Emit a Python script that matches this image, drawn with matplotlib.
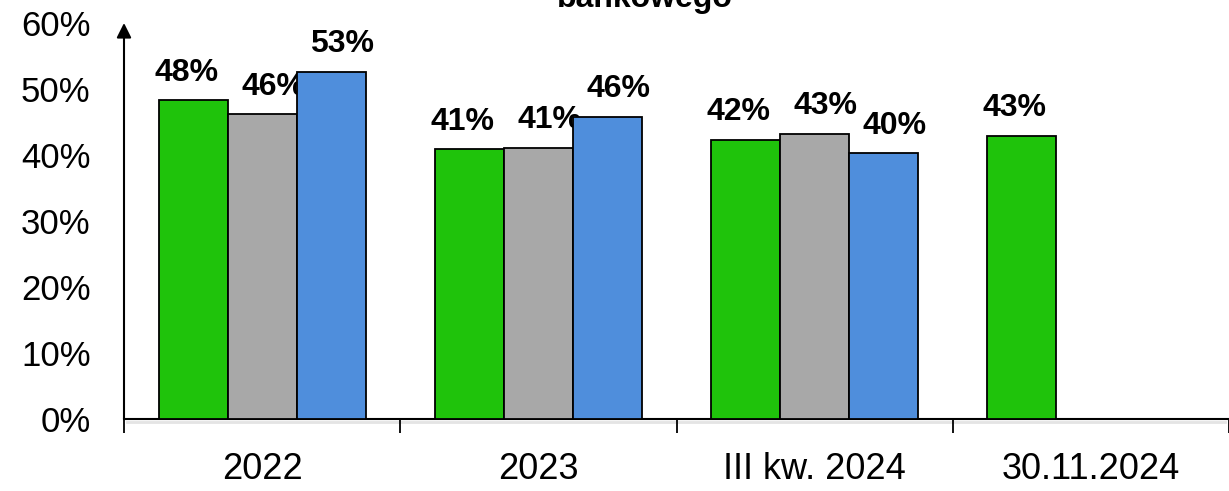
import numpy as np
import matplotlib.pyplot as plt

plt.rcParams['font.family'] = ['Liberation Sans', 'DejaVu Sans']

kategorie = ["2022", "2023", "III kw. 2024", "30.11.2024"]
seria_zielona = [48.3, 40.9, 42.3, 42.9]
seria_szara = [46.2, 41.1, 43.2, np.nan]
seria_niebieska = [52.6, 45.8, 40.3, np.nan]

kolory = ["#1FC30B", "#A8A8A8", "#4F8EDC"]
przesuniecia = [-0.25, 0.0, 0.25]
przes_etykiet = [-5, 8, 8]  # przesuniecie etykiet w punktach

fig = plt.figure(figsize=(12.29, 4.91), dpi=100)
ax = fig.add_axes([124 / 1229, 1 - 419 / 491, 1 - 124 / 1229, (419 - 23) / 491])

x = np.arange(len(kategorie))
serie = [seria_zielona, seria_szara, seria_niebieska]
for wart, kol, dx, dl in zip(serie, kolory, przesuniecia, przes_etykiet):
    bars = ax.bar(x + dx, wart, width=0.25, color=kol, edgecolor="black", linewidth=1.3, zorder=3)
    for xi, v in zip(x, wart):
        if np.isnan(v):
            continue
        ax.annotate(f"{round(v):.0f}%", xy=(xi + dx, v), xytext=(dl, 9),
                    textcoords="offset points", ha="center", va="bottom",
                    fontsize=23, fontweight="bold")

ax.set_ylim(0, 60)
ax.set_xlim(-0.5, 3.486)
ax.set_yticks(range(0, 61, 10))
ax.set_yticklabels([f"{t}%" for t in range(0, 61, 10)], fontsize=25)
ax.tick_params(axis="y", length=0, pad=24)

# podzialka osi x na granicach kategorii, etykiety w srodku
ax.set_xticks(np.arange(-0.5, 3.6, 1.0))
ax.set_xticklabels([])
ax.set_xticks(x, minor=True)
ax.set_xticklabels(kategorie, minor=True, fontsize=26)
ax.tick_params(axis="x", which="major", length=10, width=1.3, direction="out")
ax.tick_params(axis="x", which="minor", length=0, pad=24)

for s in ["top", "right", "left"]:
    ax.spines[s].set_visible(False)
ax.spines["bottom"].set_linewidth(1.5)

# lekki cien pod osia x
ax.plot([-0.49, 3.486], [-0.45, -0.45], color="#e4e4e4", lw=2, clip_on=False, zorder=1)

# os y ze strzalka
ax.annotate("", xy=(0, 1.0), xycoords="axes fraction", xytext=(0, 0),
            arrowprops=dict(arrowstyle="-|>", color="black", lw=1.5, mutation_scale=22,
                            shrinkA=0, shrinkB=0))

fig.text(0.525, 1 - 7 / 491, "bankowego", ha="center", va="baseline",
         fontsize=23, fontweight="bold")

fig.savefig("out.png", dpi=100)
